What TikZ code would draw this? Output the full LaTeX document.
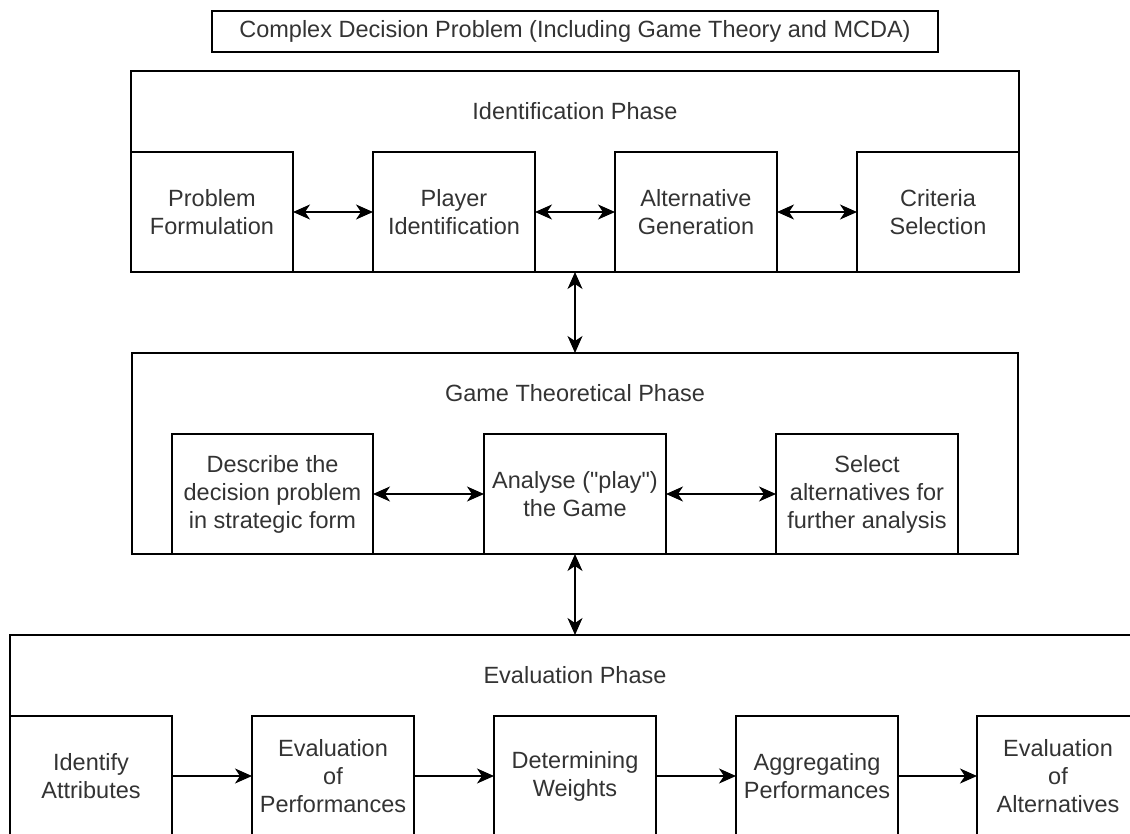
\documentclass[tikz,border=0pt]{standalone}
\usepackage{fontspec}
\setmainfont{Liberation Sans}[Ligatures=TeXOff]
\usetikzlibrary{arrows.meta}
\newcommand\phfont{\fontsize{23.5}{28}\selectfont}
\definecolor{txt}{HTML}{333333}
\begin{document}
\begin{tikzpicture}[x=1pt,y=-1pt,
  box/.style={draw=black, line width=1.3pt, inner sep=0pt, outer sep=0pt, align=center, font=\phfont, text=txt},
  lbl/.style={font=\phfont, text=txt, inner sep=0pt},
  arr/.style={line width=1.5pt, -{Stealth[length=17pt,width=15pt,inset=5pt]}},
  darr/.style={line width=1.5pt, {Stealth[length=17pt,width=15pt,inset=5pt]}-{Stealth[length=17pt,width=15pt,inset=5pt]}}]
\useasboundingbox (0,0) rectangle (1130,833);
\clip (0,0) rectangle (1130,833);
% title
\node[box, minimum width=726pt, minimum height=41pt] (title) at (575,31.5) {Complex Decision Problem (Including Game Theory and MCDA)};
% identification phase
\node[box, minimum width=888pt, minimum height=201pt] (ident) at (575,171.5) {};
\node[lbl] (identlbl) at (575,111.5) {Identification Phase};
\node[box, minimum width=162pt, minimum height=120pt] (pf) at (212,212) {Problem\\Formulation};
\node[box, minimum width=162pt, minimum height=120pt] (pi) at (454,212) {Player\\Identification};
\node[box, minimum width=162pt, minimum height=120pt] (ag) at (696,212) {Alternative\\Generation};
\node[box, minimum width=162pt, minimum height=120pt] (cs) at (938,212) {Criteria\\Selection};
\draw[darr] (pf) -- (pi);
\draw[darr] (pi) -- (ag);
\draw[darr] (ag) -- (cs);
% game theoretical phase
\node[box, minimum width=886pt, minimum height=201pt] (game) at (575,453.5) {};
\node[lbl] (gamelbl) at (575,393.5) {Game Theoretical Phase};
\node[box, minimum width=201pt, minimum height=120pt] (desc) at (272.5,494) {Describe the\\decision problem\\in strategic form};
\node[box, minimum width=182pt, minimum height=120pt] (anal) at (575,494) {Analyse ("play")\\the Game};
\node[box, minimum width=182pt, minimum height=120pt] (sel) at (867,494) {Select\\alternatives for\\further analysis};
\draw[darr] (desc) -- (anal);
\draw[darr] (anal) -- (sel);
% evaluation phase
\node[box, minimum width=1130pt, minimum height=201pt] (eval) at (575,735.5) {};
\node[lbl] (evallbl) at (575,675.5) {Evaluation Phase};
\node[box, minimum width=162pt, minimum height=120pt] (ia) at (91,776) {Identify\\Attributes};
\node[box, minimum width=162pt, minimum height=120pt] (ep) at (333,776) {Evaluation\\of\\Performances};
\node[box, minimum width=162pt, minimum height=120pt] (dw) at (575,776) {Determining\\Weights};
\node[box, minimum width=162pt, minimum height=120pt] (ap) at (817,776) {Aggregating\\Performances};
\node[box, minimum width=162pt, minimum height=120pt] (ea) at (1058,776) {Evaluation\\of\\Alternatives};
\draw[arr] (ia) -- (ep);
\draw[arr] (ep) -- (dw);
\draw[arr] (dw) -- (ap);
\draw[arr] (ap) -- (ea);
% phase connectors
\draw[darr] (ident.south) -- (game.north);
\draw[darr] (game.south) -- (eval.north);
\end{tikzpicture}
\end{document}
